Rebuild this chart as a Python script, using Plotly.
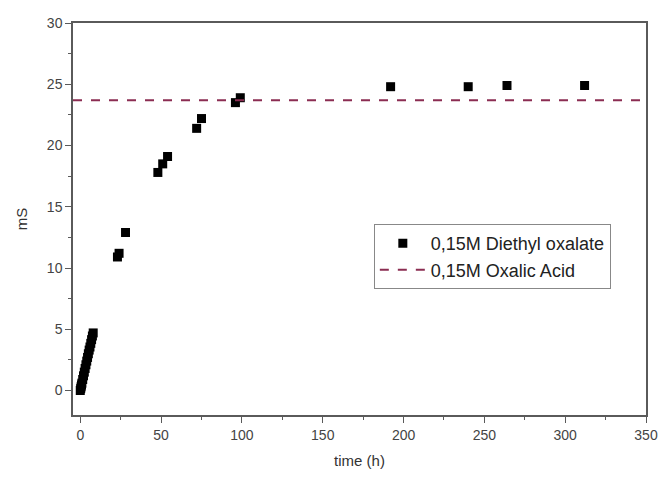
import plotly.graph_objects as go

# Data
time_h = [0.0, 0.25, 0.5, 0.75, 1.0, 1.5, 2.0, 2.5, 3.0, 3.5, 4.0, 4.5, 5.0, 5.5, 6.0, 6.5, 7.0, 7.5, 8.0,
          23, 24, 28, 48, 51, 54, 72, 75, 96, 99, 192, 240, 264, 312]
ms_diethyl = [0.0, 0.15, 0.3, 0.45, 0.6, 0.9, 1.2, 1.5, 1.8, 2.1, 2.4, 2.7, 3.0, 3.3, 3.55, 3.85, 4.15, 4.45, 4.7,
              10.9, 11.2, 12.9, 17.8, 18.5, 19.1, 21.4, 22.2, 23.5, 23.9, 24.8, 24.8, 24.9, 24.9]
oxalic_level = 23.7

x_range = [-4.5, 350]
y_range = [-2, 30]
x_ticks = [0, 50, 100, 150, 200, 250, 300, 350]
y_ticks = [0, 5, 10, 15, 20, 25, 30]

fig = go.Figure()
fig.add_trace(go.Scatter(
    x=time_h, y=ms_diethyl, mode="markers", name="0,15M Diethyl oxalate",
    marker=dict(symbol="square", size=9, color="black", line=dict(width=0)),
))
fig.add_trace(go.Scatter(
    x=x_range, y=[oxalic_level, oxalic_level], mode="lines", name="0,15M Oxalic Acid",
    line=dict(color="#8b2d52", width=2, dash="dash"),
))

axis_common = dict(
    showline=True, linecolor="#5a5a5a", linewidth=1.5, mirror=True,
    ticks="outside", ticklen=6, tickwidth=1.2, tickcolor="#5a5a5a",
    showgrid=False, zeroline=False, automargin=False,
    tickfont=dict(family="Liberation Sans, Arial", size=14, color="#444444"),
    title_font=dict(family="Liberation Sans, Arial", size=15, color="#333333"),
)

fig.update_xaxes(range=x_range, tickvals=x_ticks, title_text="time (h)",
                 minor=dict(dtick=25, ticks="outside", ticklen=3, tickcolor="#5a5a5a", tickwidth=1.2),
                 title_standoff=14, **axis_common)
fig.update_yaxes(range=y_range, tickvals=y_ticks, title_text="mS",
                 minor=dict(dtick=2.5, ticks="outside", ticklen=3, tickcolor="#5a5a5a", tickwidth=1.2),
                 title_standoff=16, **axis_common)

fig.update_layout(
    width=658, height=461,
    margin=dict(l=65, r=20, t=15, b=54),
    plot_bgcolor="white", paper_bgcolor="white",
    showlegend=True,
    legend=dict(x=0.525, y=0.487, xanchor="left", yanchor="top",
                bordercolor="#888888", borderwidth=1, bgcolor="white",
                font=dict(family="Liberation Sans, Arial", size=18, color="#222222"),
                itemwidth=46, tracegroupgap=0),
)

fig.write_html("out.html")
